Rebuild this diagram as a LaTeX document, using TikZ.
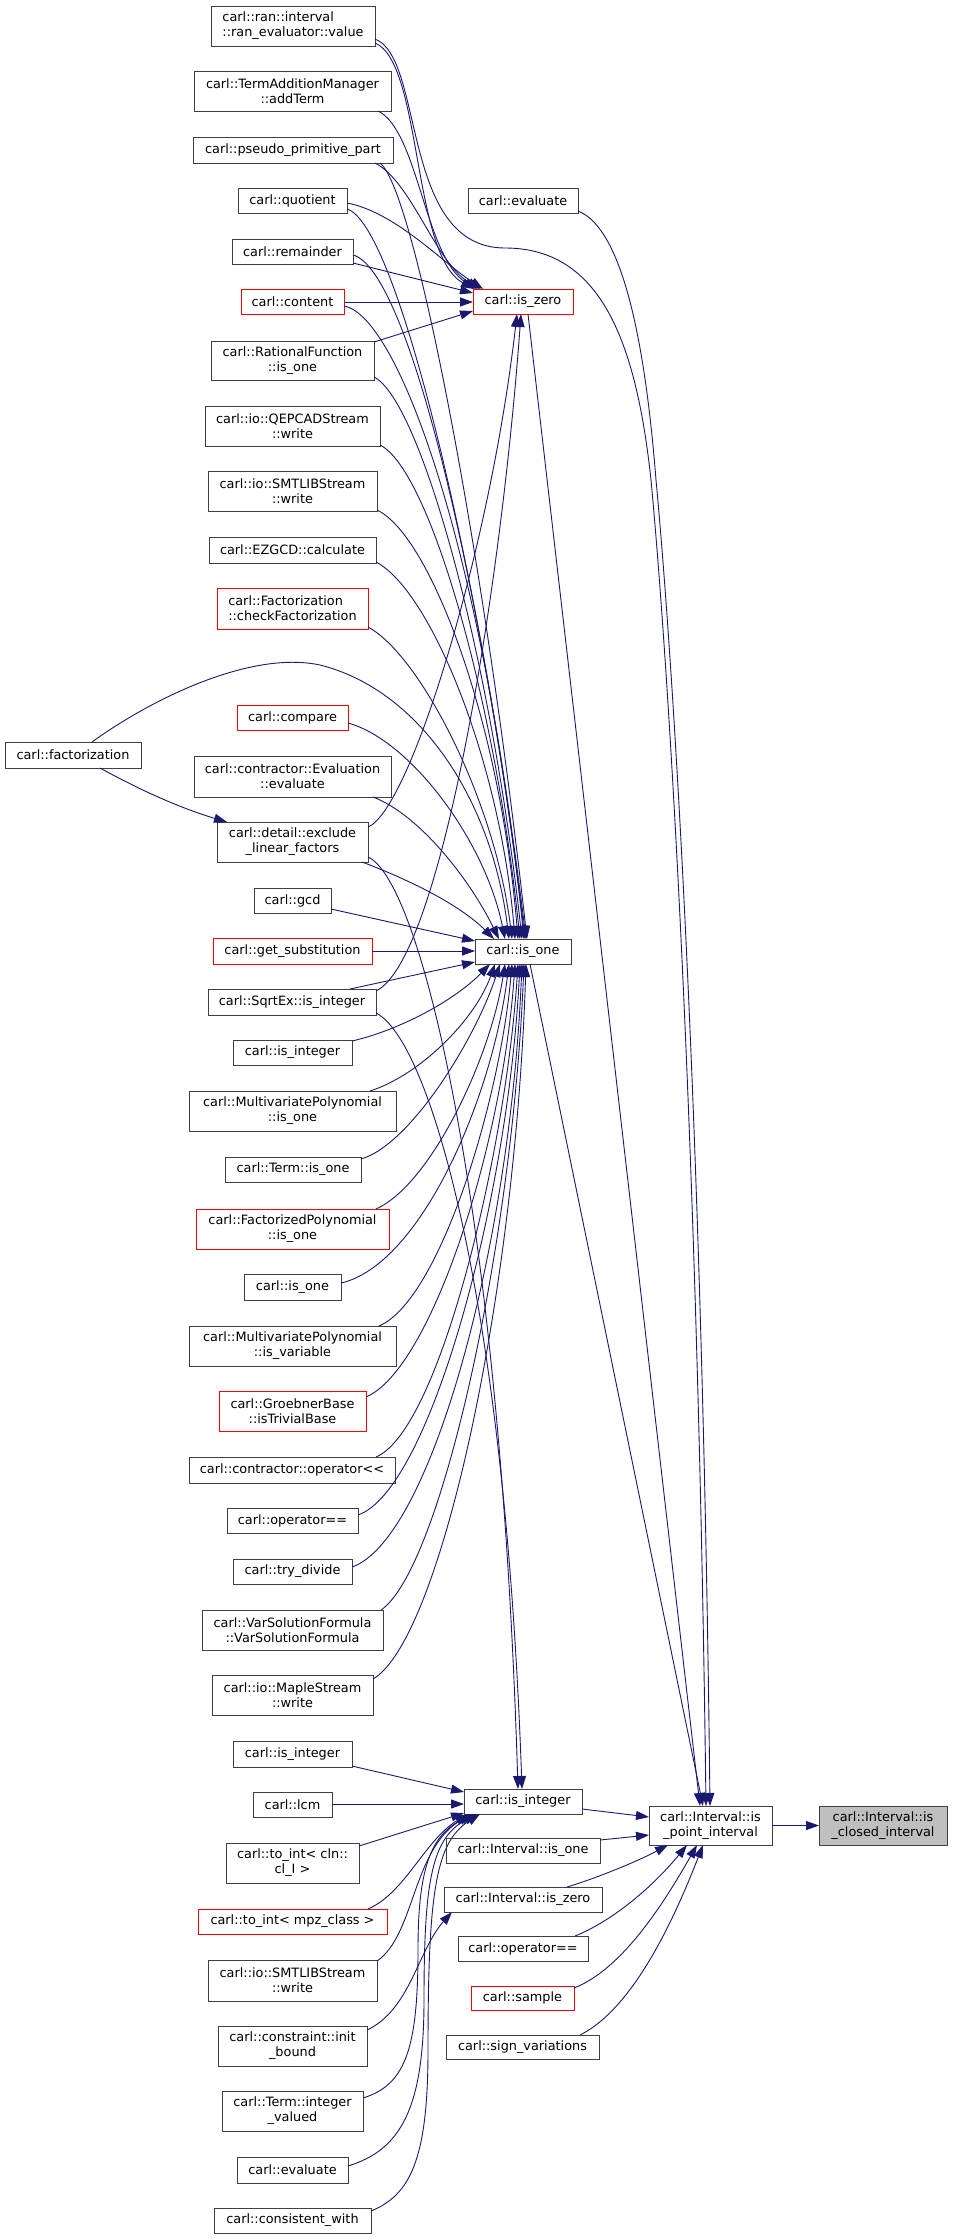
\documentclass[tikz,border=0pt]{standalone}
\usepackage{fontspec}
\setmainfont{DejaVu Sans}
\usetikzlibrary{arrows.meta}
\definecolor{navy}{HTML}{191970}
\definecolor{ndgray}{HTML}{404040}
\definecolor{rootfill}{HTML}{BFBFBF}
\newcommand\mkbox[7]{%
  \pgfmathsetmacro\mkw{#4-#2}\pgfmathsetmacro\mkh{#5-#3}%
  \pgfmathsetmacro\mkx{(#2+#4)/2}\pgfmathsetmacro\mky{(#3+#5)/2}%
  \node[nd,#6,minimum width=\mkw pt,minimum height=\mkh pt] (#1) at (\mkx,\mky) {#7};}
\tikzset{
  nd/.style={draw=ndgray,line width=1pt,fill=white,inner sep=0pt,outer sep=0pt,
    font=\fontsize{12.85}{15}\selectfont,align=center,text=black},
  rednd/.style={draw=red},
  rootnd/.style={fill=rootfill},
  leftnd/.style={align=left},
  calledge/.style={draw=navy,line width=0.9pt,-{Triangle[length=13pt,width=9pt]}}
}
\begin{document}
\begin{tikzpicture}[x=1pt,y=-1pt]
\fill[white] (0,0) rectangle (955,2239);
\useasboundingbox (0,0) rectangle (955,2239);
% nodes
\mkbox{ranev}{211}{6}{375}{46}{leftnd}{carl::ran::interval\\::ran\_evaluator::value}
\mkbox{addterm}{194}{71}{391}{111}{}{carl::TermAdditionManager\\::addTerm}
\mkbox{pseudo}{193}{137}{393}{163}{}{carl::pseudo\_primitive\_part}
\mkbox{quot}{238}{188}{347}{213}{}{carl::quotient}
\mkbox{rem}{232}{239}{353}{264}{}{carl::remainder}
\mkbox{content}{241}{289}{344}{314}{rednd}{carl::content}
\mkbox{ratone}{211}{341}{374}{380}{}{carl::RationalFunction\\::is\_one}
\mkbox{qepcad}{205}{406}{380}{446}{}{carl::io::QEPCADStream\\::write}
\mkbox{smtlibA}{208}{471}{377}{511}{}{carl::io::SMTLIBStream\\::write}
\mkbox{ezgcd}{209}{537}{376}{563}{}{carl::EZGCD::calculate}
\mkbox{checkf}{217}{588}{368}{629}{rednd,leftnd}{carl::Factorization\\::checkFactorization}
\mkbox{compare}{237}{705}{348}{730}{rednd}{carl::compare}
\mkbox{factz}{5}{742}{141}{768}{}{carl::factorization}
\mkbox{evaleval}{194}{756}{391}{797}{}{carl::contractor::Evaluation\\::evaluate}
\mkbox{exclude}{217}{822}{368}{862}{}{carl::detail::exclude\\\_linear\_factors}
\mkbox{gcd}{254}{888}{331}{913}{}{carl::gcd}
\mkbox{getsub}{213}{938}{372}{964}{rednd}{carl::get\_substitution}
\mkbox{sqrtex}{208}{989}{376}{1015}{}{carl::SqrtEx::is\_integer}
\mkbox{isintA}{233}{1040}{352}{1065}{}{carl::is\_integer}
\mkbox{mpone}{189}{1091}{396}{1131}{}{carl::MultivariatePolynomial\\::is\_one}
\mkbox{termone}{225}{1157}{361}{1182}{}{carl::Term::is\_one}
\mkbox{fpone}{196}{1209}{389}{1249}{rednd}{carl::FactorizedPolynomial\\::is\_one}
\mkbox{isoneB}{244}{1274}{341}{1300}{}{carl::is\_one}
\mkbox{mpvar}{189}{1326}{396}{1366}{}{carl::MultivariatePolynomial\\::is\_variable}
\mkbox{groeb}{219}{1391}{366}{1431}{rednd}{carl::GroebnerBase\\::isTrivialBase}
\mkbox{opll}{189}{1457}{395}{1483}{}{carl::contractor::operator<{}<}
\mkbox{opeqA}{227}{1508}{358}{1533}{}{carl::operator==}
\mkbox{trydiv}{233}{1559}{352}{1584}{}{carl::try\_divide}
\mkbox{varsol}{202}{1610}{383}{1650}{}{carl::VarSolutionFormula\\::VarSolutionFormula}
\mkbox{maple}{212}{1675}{373}{1715}{}{carl::io::MapleStream\\::write}
\mkbox{isintB}{233}{1741}{352}{1767}{}{carl::is\_integer}
\mkbox{lcm}{253}{1792}{332}{1817}{}{carl::lcm}
\mkbox{tointcln}{226}{1843}{359}{1883}{}{carl::to\_int< cln::\\cl\_I >}
\mkbox{tointmpz}{198}{1909}{387}{1934}{rednd}{carl::to\_int< mpz\_class >}
\mkbox{smtlibB}{208}{1960}{377}{2001}{}{carl::io::SMTLIBStream\\::write}
\mkbox{initb}{218}{2026}{367}{2066}{}{carl::constraint::init\\\_bound}
\mkbox{intval}{222}{2091}{363}{2131}{}{carl::Term::integer\\\_valued}
\mkbox{evalB}{237}{2157}{348}{2183}{}{carl::evaluate}
\mkbox{consist}{214}{2208}{371}{2233}{}{carl::consistent\_with}
\mkbox{evaltop}{468}{188}{578}{213}{}{carl::evaluate}
\mkbox{iszero}{473}{289}{573}{314}{rednd}{carl::is\_zero}
\mkbox{isone}{475}{939}{571}{964}{}{carl::is\_one}
\mkbox{isintm}{464}{1789}{582}{1814}{}{carl::is\_integer}
\mkbox{ivone}{446}{1838}{600}{1863}{}{carl::Interval::is\_one}
\mkbox{ivzero}{444}{1887}{602}{1912}{}{carl::Interval::is\_zero}
\mkbox{opeqB}{458}{1936}{588}{1961}{}{carl::operator==}
\mkbox{sample}{471}{1986}{574}{2010}{rednd}{carl::sample}
\mkbox{signvar}{446}{2035}{599}{2059}{}{carl::sign\_variations}
\mkbox{pointiv}{649}{1806}{772}{1845}{}{carl::Interval::is\\\_point\_interval}
\mkbox{closediv}{819}{1806}{947}{1845}{rootnd}{carl::Interval::is\\\_closed\_interval}
% edges to is_zero
\draw[calledge] (ranev.east |- 0,43) .. controls (422,62) and (412,255) .. (iszero.north -| 474,0);
\draw[calledge] (addterm.south -| 378,0) .. controls (418,130) and (425,258) .. (iszero.north -| 477,0);
\draw[calledge] (pseudo.south -| 375,0) .. controls (412,182) and (435,262) .. (iszero.north -| 480,0);
\draw[calledge] (quot.east |- 0,203) .. controls (395,212) and (442,262) .. (iszero.north -| 483,0);
\draw[calledge] (rem.east |- 0,263) -- (iszero.west |- 0,293);
\draw[calledge] (content.east |- 0,302) -- (iszero.west |- 0,302);
\draw[calledge] (ratone.east |- 0,342) -- (iszero.west |- 0,311);
\draw[calledge] (exclude.east |- 0,827) .. controls (410,810) and (490,550) .. (iszero.south -| 517,0);
\draw[calledge] (sqrtex.east |- 0,991) .. controls (440,960) and (500,600) .. (iszero.south -| 521,0);
% edges to is_one from above
\draw[calledge] (pseudo.south -| 380,0) .. controls (415,190) and (485,560) .. (isone.north -| 527,0);
\draw[calledge] (quot.east |- 0,209) .. controls (400,225) and (485,600) .. (isone.north -| 526,0);
\draw[calledge] (rem.east |- 0,255) .. controls (410,270) and (485,600) .. (isone.north -| 525,0);
\draw[calledge] (content.east |- 0,306) .. controls (400,316) and (485,560) .. (isone.north -| 524,0);
\draw[calledge] (ratone.east |- 0,377) .. controls (420,400) and (490,650) .. (isone.north -| 522,0);
\draw[calledge] (qepcad.east |- 0,445) .. controls (430,470) and (495,700) .. (isone.north -| 520,0);
\draw[calledge] (smtlibA.east |- 0,510) .. controls (430,535) and (500,720) .. (isone.north -| 518,0);
\draw[calledge] (ezgcd.east |- 0,562) .. controls (430,590) and (500,760) .. (isone.north -| 515,0);
\draw[calledge] (checkf.east |- 0,627) .. controls (420,655) and (495,800) .. (isone.north -| 512,0);
\draw[calledge] (factz.north -| 92,0) .. controls (150,700) and (250,650) .. (320,665) .. controls (420,690) and (492,800) .. (isone.north -| 509,0);
\draw[calledge] (compare.east |- 0,723) .. controls (410,740) and (485,840) .. (isone.north -| 505,0);
\draw[calledge] (evaleval.south -| 373,0) .. controls (420,815) and (470,880) .. (isone.north -| 499,0);
\draw[calledge] (exclude.south -| 362,0) .. controls (410,880) and (460,905) .. (isone.north -| 494,0);
% edges to is_one from the left
\draw[calledge] (gcd.east |- 0,909) -- (isone.west |- 0,941);
\draw[calledge] (getsub.east |- 0,951) -- (isone.west |- 0,951);
\draw[calledge] (sqrtex.north -| 350,0) -- (isone.west |- 0,962);
% edges to is_one from below
\draw[calledge] (isintA.east |- 0,1041) .. controls (400,1030) and (455,1000) .. (isone.south -| 490,0);
\draw[calledge] (mpone.north -| 370,0) .. controls (420,1075) and (475,1020) .. (isone.south -| 495,0);
\draw[calledge] (termone.east |- 0,1159) .. controls (410,1145) and (475,1040) .. (isone.south -| 500,0);
\draw[calledge] (fpone.north -| 376,0) .. controls (430,1185) and (490,1060) .. (isone.south -| 505,0);
\draw[calledge] (isoneB.east |- 0,1283) .. controls (420,1265) and (492,1100) .. (isone.south -| 509,0);
\draw[calledge] (mpvar.north -| 379,0) .. controls (440,1300) and (500,1100) .. (isone.south -| 512,0);
\draw[calledge] (groeb.east |- 0,1397) .. controls (430,1370) and (502,1150) .. (isone.south -| 515,0);
\draw[calledge] (opll.north -| 376,0) .. controls (440,1430) and (506,1150) .. (isone.south -| 518,0);
\draw[calledge] (opeqA.east |- 0,1515) .. controls (430,1490) and (508,1200) .. (isone.south -| 520,0);
\draw[calledge] (trydiv.east |- 0,1567) .. controls (430,1540) and (510,1250) .. (isone.south -| 522,0);
\draw[calledge] (varsol.north -| 381,0) .. controls (440,1570) and (512,1250) .. (isone.south -| 524,0);
\draw[calledge] (maple.east |- 0,1679) .. controls (440,1640) and (515,1300) .. (isone.south -| 526,0);
% factorization -> exclude
\draw[calledge] (factz.south -| 100,0) .. controls (140,790) and (180,808) .. (exclude.north -| 227,0);
% edges to is_integer (middle)
\draw[calledge] (exclude.east |- 0,857) .. controls (420,880) and (500,1200) .. (isintm.north -| 518,0);
\draw[calledge] (sqrtex.east |- 0,1013) .. controls (430,1040) and (505,1300) .. (isintm.north -| 522,0);
\draw[calledge] (isintB.east |- 0,1766) -- (isintm.west |- 0,1792);
\draw[calledge] (lcm.east |- 0,1804) -- (isintm.west |- 0,1804);
\draw[calledge] (tointcln.east |- 0,1846) -- (isintm.west |- 0,1813);
\draw[calledge] (tointmpz.north -| 368,0) .. controls (405,1893) and (425,1840) .. (isintm.south -| 468,0);
\draw[calledge] (smtlibB.east |- 0,1961) .. controls (415,1935) and (412,1850) .. (isintm.south -| 471,0);
\draw[calledge] (intval.east |- 0,2098) .. controls (405,2085) and (418,2050) .. (418,1950) .. controls (418,1870) and (430,1835) .. (isintm.south -| 474,0);
\draw[calledge] (evalB.east |- 0,2166) .. controls (400,2150) and (424,2110) .. (424,2000) .. controls (424,1880) and (432,1838) .. (isintm.south -| 477,0);
\draw[calledge] (consist.east |- 0,2211) .. controls (410,2195) and (428,2160) .. (428,2050) .. controls (428,1890) and (436,1842) .. (isintm.south -| 480,0);
% to Interval::is_zero
\draw[calledge] (initb.east |- 0,2030) .. controls (410,2010) and (418,1950) .. (ivzero.south -| 452,0);
% to is_point_interval
\draw[calledge] (isintm.east |- 0,1809) -- (pointiv.west |- 0,1817);
\draw[calledge] (ivone.east |- 0,1840) -- (pointiv.west |- 0,1835);
\draw[calledge] (ivzero.north -| 567,0) .. controls (600,1877) and (640,1860) .. (pointiv.south -| 668,0);
\draw[calledge] (opeqB.north -| 575,0) .. controls (610,1922) and (650,1890) .. (pointiv.south -| 687,0);
\draw[calledge] (sample.east |- 0,1988) .. controls (620,1970) and (660,1910) .. (pointiv.south -| 697,0);
\draw[calledge] (signvar.north -| 580,0) .. controls (630,2010) and (670,1930) .. (pointiv.south -| 703,0);
\draw[calledge] (iszero.south -| 528,0) -- (pointiv.north -| 700,0);
\draw[calledge] (isone.south -| 530,0) -- (pointiv.north -| 703,0);
\draw[calledge] (ranev.east |- 0,39) .. controls (425,58) and (400,248) .. (505,248) .. controls (600,248) and (636,340) .. (651,480) .. controls (667,650) and (697,1100) .. (pointiv.north -| 706,0);
\draw[calledge] (evaltop.east |- 0,211) .. controls (622,228) and (645,340) .. (656,480) .. controls (672,650) and (702,1100) .. (pointiv.north -| 710,0);
\draw[calledge] (pointiv.east) -- (closediv.west);
\end{tikzpicture}
\end{document}
